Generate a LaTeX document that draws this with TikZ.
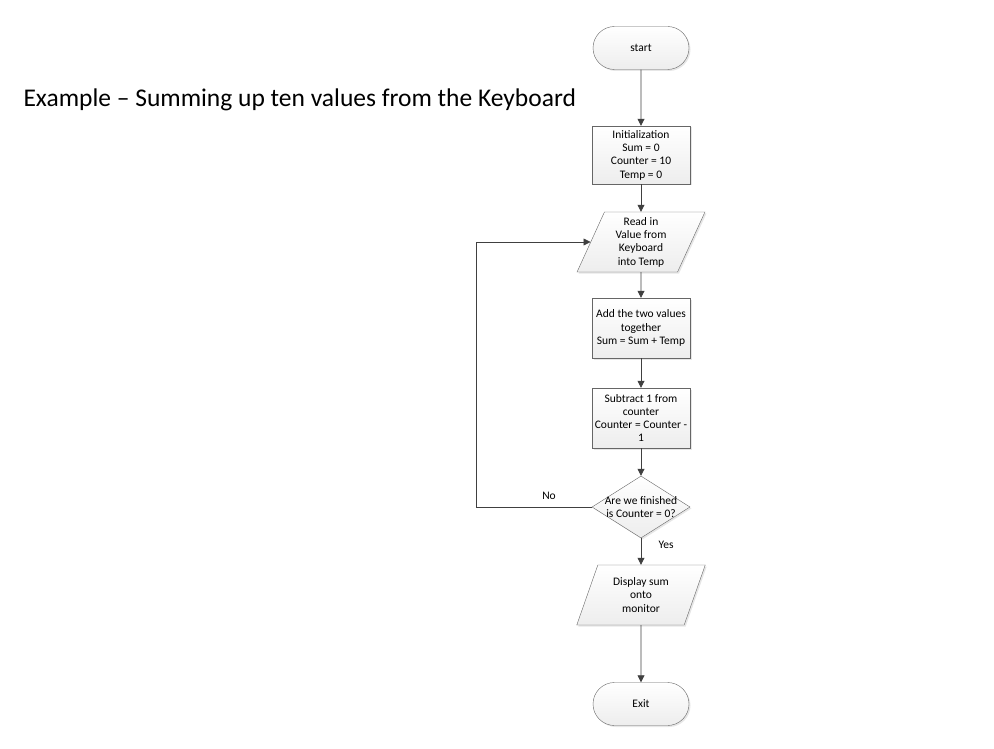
\documentclass[tikz,border=0pt]{standalone}
\usepackage{fontspec}
\setmainfont{Carlito}
\usetikzlibrary{arrows.meta,shapes.geometric,shapes.misc,shadows}
\tikzset{
  base/.style={draw=black!60,top color=white,bottom color=black!7,
    drop shadow={opacity=0.2,shadow xshift=1.5pt,shadow yshift=-1.5pt},
    align=center,font=\fontsize{11.5}{13.3}\selectfont,inner sep=1pt},
  term/.style={base,rounded rectangle,minimum width=98pt,minimum height=43pt},
  proc/.style={base,rectangle,minimum width=98pt,minimum height=60pt},
  io/.style={base,trapezium,trapezium left angle=69,trapezium right angle=111,
    trapezium stretches=true,minimum width=129pt,minimum height=60pt},
  decision/.style={base,diamond,minimum width=98pt,minimum height=62pt},
  lbl/.style={align=center,font=\fontsize{11.5}{13.3}\selectfont},
  flow/.style={draw=black!75,line width=0.8pt,-{Triangle[length=7pt,width=7pt]}}
}
\begin{document}
\begin{tikzpicture}[x=1pt,y=-1pt]
\useasboundingbox (0,0) rectangle (994,749);
% title
\node[anchor=west,font=\fontsize{25.5}{30}\selectfont] (title) at (20,100) {Example – Summing up ten values from the Keyboard};
% flow chart
\node[term] (start) at (641,48) {start};
\node[proc,minimum height=58pt] (init) at (641,155) {Initialization\\Sum = 0\\Counter = 10\\Temp = 0};
\node[io] (read) at (641,242) {Read in\\Value from\\Keyboard\\into Temp};
\node[proc] (add) at (641,328) {Add the two values\\together\\Sum = Sum + Temp};
\node[proc] (sub) at (641,418) {Subtract 1 from\\counter\\Counter = Counter -\\1};
\node[decision] (dec) at (641,507) {};
\node[lbl] (dectext) at (dec) {Are we finished\\is Counter = 0?};
\node[io] (disp) at (641,595) {Display sum\\onto\\monitor};
\node[term] (exit) at (641,704) {Exit};
\coordinate (corner) at (476,507);
% connectors
\draw[flow] (start) -- (init);
\draw[flow] (init) -- (read);
\draw[flow] (read) -- (add);
\draw[flow] (add) -- (sub);
\draw[flow] (sub) -- (dec);
\draw[flow] (dec) -- (disp);
\draw[flow] (disp) -- (exit);
\draw[flow] (dec.west) -- (corner) |- (read.west);
\node[lbl] (no) at (549,496) {No};
\node[lbl] (yes) at (666,545) {Yes};
\end{tikzpicture}
\end{document}
